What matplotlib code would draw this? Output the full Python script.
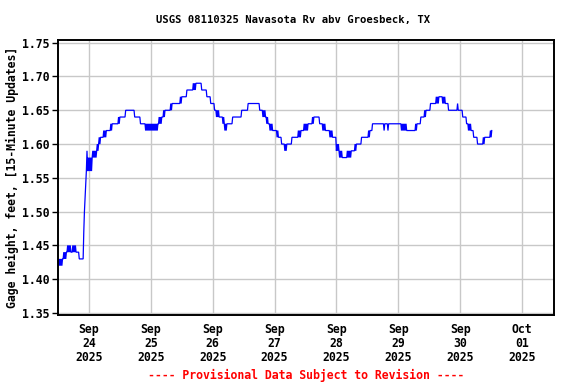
import matplotlib
matplotlib.use("Agg")
import matplotlib.pyplot as plt

# ---- data (hours relative to 2025-09-24 00:00) ----
# each segment: start hour, low value, high value (low != high -> reading toggles every 15 min)
seg_hour = [-12.0, -10.0, -8.5, -8.25, -8.0, -7.75, -7.5, -7.25, -7.0, -6.5, -5.0, -3.75,
            -2.0, -1.75, -1.5, -1.25, -1.0, -0.75, -0.5, 1.25, 3.0, 3.75, 4.75, 5.5, 7.0,
            8.25, 9.25, 11.25, 12.0, 14.25, 17.75, 20.0, 22.0, 27.0, 28.25, 28.75, 29.5,
            31.5, 32.5, 35.25, 36.0, 38.0, 40.25, 41.5, 43.75, 45.75, 47.25, 48.75, 49.5,
            50.5, 52.0, 52.75, 53.5, 55.5, 56.0, 59.25, 61.75, 66.25, 67.5, 68.75, 69.0,
            69.5, 70.25, 71.25, 73.0, 73.5, 74.75, 76.0, 76.75, 78.75, 81.0, 82.25, 83.25,
            85.0, 86.5, 87.25, 89.5, 90.75, 92.0, 93.5, 94.5, 96.0, 97.25, 98.5, 100.0,
            102.0, 103.0, 104.0, 105.75, 108.25, 109.25, 110.0, 114.5, 114.75, 116.0,
            116.25, 121.25, 123.25, 126.5, 127.25, 128.75, 130.0, 130.75, 132.5, 134.5,
            136.0, 137.25, 138.5, 139.5, 143.0, 143.25, 145.0, 146.5, 147.25, 148.5,
            149.25, 150.75, 152.75, 153.5, 155.5]
seg_lo = [1.42, 1.43, 1.44, 1.45, 1.44, 1.45, 1.44, 1.45, 1.44, 1.44, 1.44, 1.43,
          1.47, 1.50, 1.52, 1.54, 1.56, 1.59, 1.56, 1.58, 1.59, 1.60, 1.61, 1.61, 1.62,
          1.62, 1.63, 1.63, 1.64, 1.65, 1.64, 1.63, 1.62, 1.63, 1.64, 1.64, 1.65,
          1.65, 1.66, 1.66, 1.67, 1.68, 1.68, 1.69, 1.68, 1.67, 1.66, 1.65, 1.64,
          1.64, 1.63, 1.62, 1.63, 1.63, 1.64, 1.65, 1.66, 1.65, 1.64, 1.64, 1.63,
          1.63, 1.62, 1.62, 1.61, 1.61, 1.60, 1.59, 1.60, 1.61, 1.61, 1.62, 1.62,
          1.63, 1.63, 1.64, 1.63, 1.62, 1.62, 1.61, 1.61, 1.59, 1.58, 1.58, 1.58,
          1.59, 1.59, 1.60, 1.61, 1.61, 1.62, 1.63, 1.62, 1.63, 1.62,
          1.63, 1.62, 1.62, 1.62, 1.63, 1.64, 1.64, 1.65, 1.66, 1.66,
          1.67, 1.66, 1.66, 1.65, 1.66, 1.65, 1.64, 1.63, 1.62, 1.62,
          1.61, 1.60, 1.60, 1.61, 1.61]
seg_hi = [1.43, 1.44, 1.44, 1.45, 1.44, 1.45, 1.44, 1.45, 1.44, 1.45, 1.44, 1.43,
          1.47, 1.50, 1.52, 1.54, 1.56, 1.59, 1.58, 1.59, 1.60, 1.61, 1.61, 1.62, 1.62,
          1.63, 1.63, 1.64, 1.64, 1.65, 1.64, 1.63, 1.63, 1.64, 1.64, 1.65, 1.65,
          1.66, 1.66, 1.67, 1.67, 1.68, 1.69, 1.69, 1.68, 1.67, 1.66, 1.65, 1.65,
          1.64, 1.64, 1.63, 1.63, 1.64, 1.64, 1.65, 1.66, 1.65, 1.65, 1.64, 1.64,
          1.63, 1.63, 1.62, 1.62, 1.61, 1.60, 1.60, 1.60, 1.61, 1.62, 1.62, 1.63,
          1.63, 1.64, 1.64, 1.63, 1.63, 1.62, 1.62, 1.61, 1.60, 1.59, 1.58, 1.59,
          1.59, 1.60, 1.60, 1.61, 1.62, 1.62, 1.63, 1.62, 1.63, 1.62,
          1.63, 1.63, 1.62, 1.63, 1.63, 1.64, 1.65, 1.65, 1.66, 1.67,
          1.67, 1.67, 1.66, 1.65, 1.66, 1.65, 1.64, 1.63, 1.63, 1.62,
          1.61, 1.60, 1.61, 1.61, 1.62]
end_hour = 156.5

tick_hours = [0, 24, 48, 72, 96, 120, 144, 168]
tick_labels = ["Sep\n24\n2025", "Sep\n25\n2025", "Sep\n26\n2025", "Sep\n27\n2025",
               "Sep\n28\n2025", "Sep\n29\n2025", "Sep\n30\n2025", "Oct\n01\n2025"]
y_ticks = [1.35, 1.40, 1.45, 1.50, 1.55, 1.60, 1.65, 1.70, 1.75]

# expand segments into 15-minute readings
times, vals = [], []
for i, t0 in enumerate(seg_hour):
    t1 = seg_hour[i + 1] if i + 1 < len(seg_hour) else end_hour
    k = 0
    t = t0
    while t < t1 - 1e-9:
        times.append(t)
        vals.append(seg_lo[i] if k % 2 == 0 else seg_hi[i])
        t += 0.25
        k += 1

font = "DejaVu Sans Mono"
fs = 8.3

fig = plt.figure(figsize=(5.76, 3.84), dpi=100)
ax = fig.add_axes([58 / 576, 1 - 315 / 384, (554 - 58) / 576, (315 - 40) / 384])

ax.plot(times, vals, color="#0000ff", lw=0.9, solid_joinstyle="miter")

ax.set_xlim(-12, 180.4)
ax.set_ylim(1.347, 1.754)
ax.set_xticks(tick_hours)
ax.set_xticklabels(tick_labels, fontfamily=font, fontweight="bold", fontsize=fs,
                   linespacing=1.1)
ax.set_yticks(y_ticks)
ax.set_yticklabels([f"{v:.2f}" for v in y_ticks], fontfamily=font, fontweight="bold",
                   fontsize=fs)
ax.tick_params(axis="x", length=0, pad=6)
ax.tick_params(axis="y", length=4, width=1, pad=2, direction="out")
ax.grid(True, color="#c8c8c8", lw=1.0)
ax.set_axisbelow(True)
for s in ax.spines.values():
    s.set_linewidth(1.4)
    s.set_color("black")

ax.set_ylabel("Gage height, feet, [15-Minute Updates]", fontfamily=font,
              fontweight="bold", fontsize=fs, labelpad=2)

fig.text(293.5 / 576, 1 - 20 / 384, "USGS 08110325 Navasota Rv abv Groesbeck, TX",
         ha="center", va="center", fontfamily=font, fontweight="bold", fontsize=7.6)
fig.text(306 / 576, 1 - 375 / 384, "---- Provisional Data Subject to Revision ----",
         ha="center", va="center", fontfamily=font, fontweight="bold", fontsize=fs,
         color="red")

fig.savefig("out.png", dpi=100)
